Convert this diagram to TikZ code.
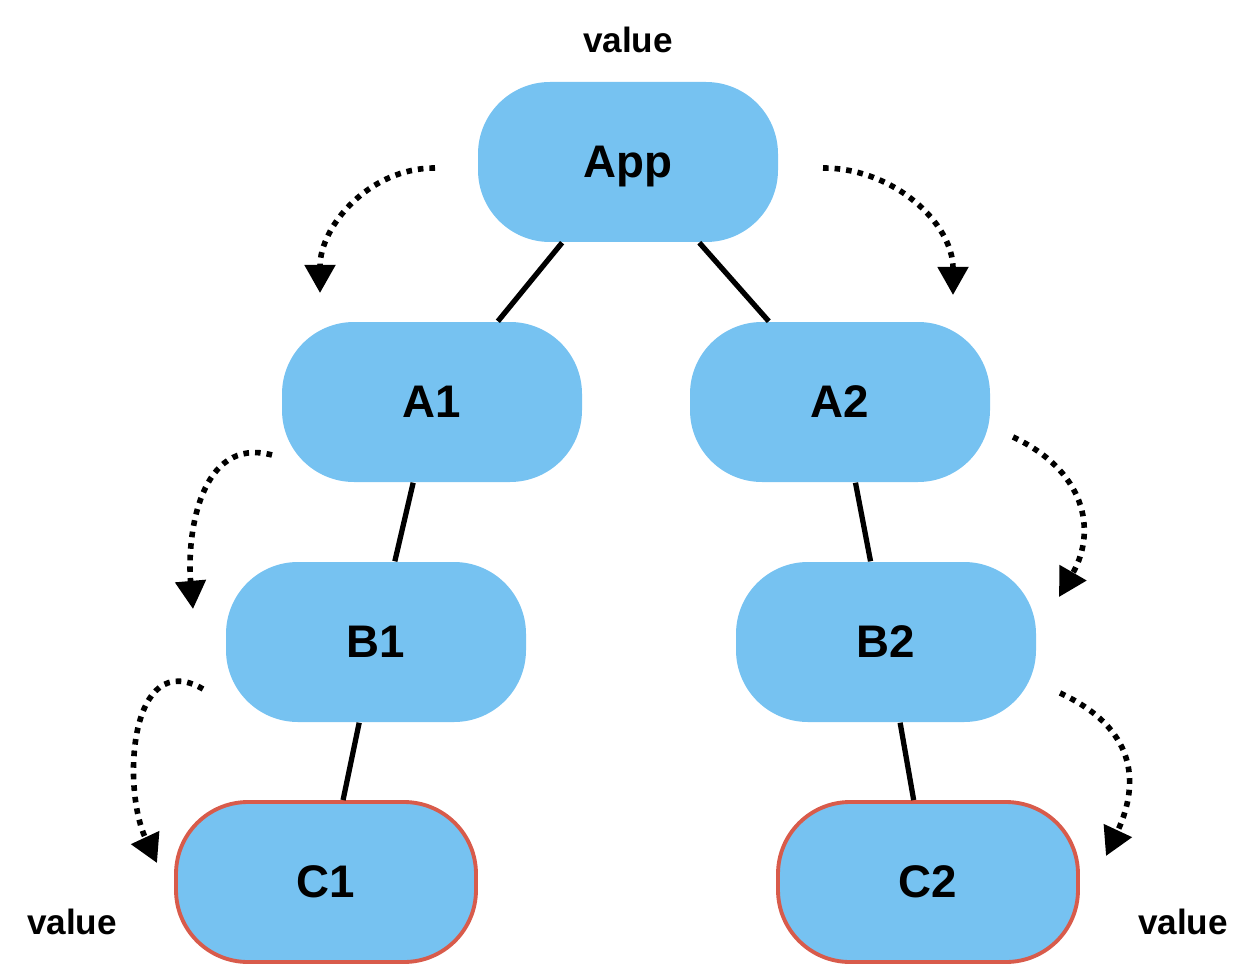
\documentclass[tikz,border=0pt]{standalone}
\usepackage{fontspec}
\setmainfont{Liberation Sans}
\usetikzlibrary{arrows.meta}

\definecolor{boxblue}{HTML}{76C2F1}
\definecolor{boxred}{HTML}{D85B4B}

\begin{document}
\begin{tikzpicture}[
    comp/.style={rectangle, rounded corners=0.72cm, fill=boxblue,
      minimum width=3cm, minimum height=1.6cm, inner sep=0pt, text depth=0pt,
      font=\fontsize{13}{16}\selectfont\bfseries},
    leaf/.style={comp, draw=boxred, line width=1.1pt},
    link/.style={line width=1.5pt, line cap=butt},
    flow/.style={line width=1.6pt, dash pattern=on 1.6pt off 1.7pt,
      -{Triangle[length=8pt,width=8.5pt]}},
    lbl/.style={font=\fontsize{10}{12}\selectfont\bfseries}
  ]
        \useasboundingbox (0,0) rectangle (12.5,-9.76);

        % 组件节点
        \node[comp] (app) at (6.28,-1.62) {App};
        \node[comp] (a1) at (4.32,-4.02) {A1};
        \node[comp] (a2) at (8.40,-4.02) {A2};
        \node[comp] (b1) at (3.76,-6.42) {B1};
        \node[comp] (b2) at (8.86,-6.42) {B2};
        \node[leaf] (c1) at (3.26,-8.82) {C1};
        \node[leaf] (c2) at (9.28,-8.82) {C2};

        % 连线
        \foreach \p/\c in {app/a1, app/a2, a1/b1, a2/b2, b1/c1, b2/c2}
          \draw[link] (\p) -- (\c);

        % 数据流向
        \coordinate (s1) at (4.35,-1.68);  \coordinate (e1) at (3.20,-2.93);
        \coordinate (s2) at (8.23,-1.68);  \coordinate (e2) at (9.53,-2.95);
        \coordinate (s3) at (2.72,-4.55);  \coordinate (e3) at (1.93,-6.09);
        \coordinate (s4) at (10.13,-4.37); \coordinate (e4) at (10.59,-5.97);
        \coordinate (s5) at (2.03,-6.89);  \coordinate (e5) at (1.57,-8.63);
        \coordinate (s6) at (10.60,-6.93); \coordinate (e6) at (11.06,-8.56);

        \draw[flow] (s1) to[out=180,in=90] (e1);
        \draw[flow] (s2) to[out=0,in=90] (e2);
        \draw[flow] (s3) to[out=165,in=95,looseness=1.1] (e3);
        \draw[flow] (s4) to[out=-25,in=60,looseness=1.2] (e4);
        \draw[flow] (s5) to[out=150,in=115,looseness=1.2] (e5);
        \draw[flow] (s6) to[out=-25,in=65,looseness=1.25] (e6);

        % 标注
        \node[lbl] (v0) at (6.28,-0.40) {value};
        \node[lbl] (v1) at (0.72,-9.22) {value};
        \node[lbl] (v2) at (11.83,-9.22) {value};
      \end{tikzpicture}
\end{document}
